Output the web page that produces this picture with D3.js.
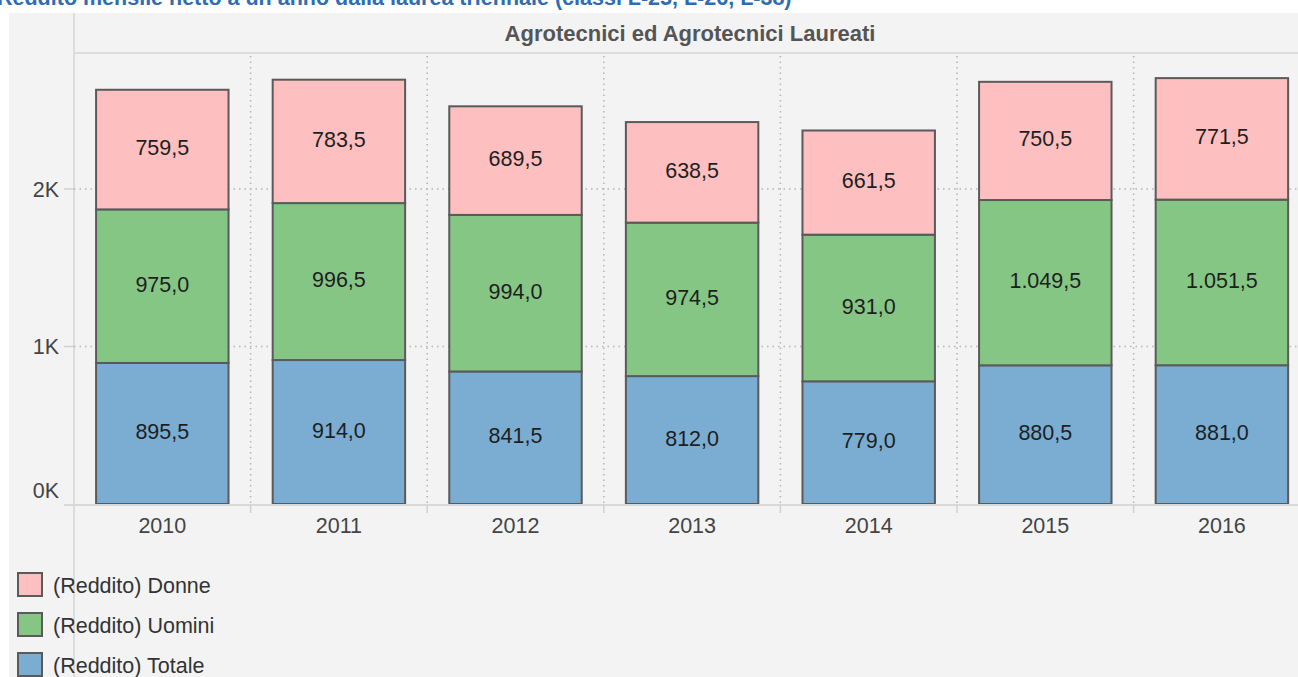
<!DOCTYPE html>
<html>
<head>
<meta charset="utf-8">
<script src="https://cdn.jsdelivr.net/npm/d3@7"></script>
<style>
  body { margin: 0; background: #fff; font-family: Arial, "Liberation Sans", sans-serif; }
  svg { display: block; }
</style>
</head>
<body>
<div id="chart"></div>
<script>
const years = ['2010', '2011', '2012', '2013', '2014', '2015', '2016']
const totale = [895.5, 914.0, 841.5, 812.0, 779.0, 880.5, 881.0]
const uomini = [975.0, 996.5, 994.0, 974.5, 931.0, 1049.5, 1051.5]
const donne = [759.5, 783.5, 689.5, 638.5, 661.5, 750.5, 771.5]
const seriesNames = ['(Reddito) Totale', '(Reddito) Uomini', '(Reddito) Donne']
const yTicks = [0, 1000, 2000]

const colors = {
  '(Reddito) Totale': '#7aadd1',
  '(Reddito) Uomini': '#85c685',
  '(Reddito) Donne': '#fdbfbf'
}

const W = 1298
const H = 677
const margin = { top: 54, left: 74, bottom: 174 }
const colW = 176.6
const plotBottom = H - margin.bottom + 1
const fontSize = 21.5

const rows = years.map((y, i) => ({
  year: y,
  '(Reddito) Totale': totale[i],
  '(Reddito) Uomini': uomini[i],
  '(Reddito) Donne': donne[i]
}))

const stack = d3.stack().keys(seriesNames)
const layers = stack(rows)

const x = d3.scaleBand()
  .domain(years)
  .range([margin.left, margin.left + colW * years.length])
  .paddingInner(0.25)
  .paddingOuter(0.125)

const y = d3.scaleLinear()
  .domain([0, 1000])
  .range([plotBottom, plotBottom - 157.5])

const fmt = v => d3.format(',.1f')(v).replace(/,/g, '#').replace('.', ',').replace(/#/g, '.')

const svg = d3.select('#chart').append('svg')
  .attr('width', W)
  .attr('height', H)

// page title, cut off by the top edge
svg.append('text')
  .attr('x', -3)
  .attr('y', 5)
  .attr('fill', '#2e6db4')
  .attr('font-size', 21.5)
  .attr('font-weight', 'bold')
  .text('Reddito mensile netto a un anno dalla laurea triennale (classi L-25, L-26, L-38)')

svg.append('rect')
  .attr('x', 9).attr('y', 13)
  .attr('width', W - 9).attr('height', H - 13)
  .attr('fill', '#f3f3f3')

// header
svg.append('line')
  .attr('x1', margin.left).attr('x2', W)
  .attr('y1', 53).attr('y2', 53)
  .attr('stroke', '#dcdcdc').attr('stroke-width', 2)
svg.append('line')
  .attr('x1', margin.left).attr('x2', margin.left)
  .attr('y1', 13).attr('y2', H)
  .attr('stroke', '#dcdcdc').attr('stroke-width', 2)

svg.append('text')
  .attr('x', 690)
  .attr('y', 33)
  .attr('dy', '0.35em')
  .attr('text-anchor', 'middle')
  .attr('fill', '#555')
  .attr('font-size', 22)
  .attr('font-weight', 'bold')
  .text('Agrotecnici ed Agrotecnici Laureati')

// grid
const dividers = d3.range(1, years.length).map(i => margin.left + colW * i)
svg.append('g').selectAll('line.vgrid')
  .data(dividers)
  .join('line')
  .attr('class', 'vgrid')
  .attr('x1', d => d).attr('x2', d => d)
  .attr('y1', 56).attr('y2', plotBottom)
  .attr('stroke', '#b5b5b5')
  .attr('stroke-width', 1.5)
  .attr('stroke-dasharray', '1.5,4')

svg.append('g').selectAll('line.hgrid')
  .data(yTicks.filter(d => d > 0))
  .join('line')
  .attr('class', 'hgrid')
  .attr('x1', margin.left).attr('x2', W)
  .attr('y1', d => y(d)).attr('y2', d => y(d))
  .attr('stroke', '#b5b5b5')
  .attr('stroke-width', 1.5)
  .attr('stroke-dasharray', '1.5,4')

// bars
const g = svg.append('g')
layers.forEach(layer => {
  const key = layer.key
  g.selectAll(null)
    .data(layer)
    .join('rect')
    .attr('x', d => x(d.data.year))
    .attr('y', d => y(d[1]))
    .attr('width', x.bandwidth())
    .attr('height', d => y(d[0]) - y(d[1]))
    .attr('fill', colors[key])
    .attr('stroke', '#5a5a5a')
    .attr('stroke-width', 2)

  g.selectAll(null)
    .data(layer)
    .join('text')
    .attr('x', d => x(d.data.year) + x.bandwidth() / 2)
    .attr('y', d => (y(d[0]) + y(d[1])) / 2 - 2)
    .attr('dy', '0.35em')
    .attr('text-anchor', 'middle')
    .attr('fill', '#1e1e1e')
    .attr('font-size', fontSize)
    .text(d => fmt(d.data[key]))
})

// x axis
svg.append('line')
  .attr('x1', margin.left - 10).attr('x2', W)
  .attr('y1', plotBottom + 1).attr('y2', plotBottom + 1)
  .attr('stroke', '#d8d8d8').attr('stroke-width', 2)

svg.append('g').selectAll('line')
  .data(dividers)
  .join('line')
  .attr('x1', d => d).attr('x2', d => d)
  .attr('y1', plotBottom + 1).attr('y2', plotBottom + 9)
  .attr('stroke', '#d0d0d0').attr('stroke-width', 1.5)

svg.append('g').selectAll('text')
  .data(years)
  .join('text')
  .attr('x', d => x(d) + x.bandwidth() / 2)
  .attr('y', plotBottom + 21)
  .attr('dy', '0.35em')
  .attr('text-anchor', 'middle')
  .attr('fill', '#444')
  .attr('font-size', fontSize)
  .text(d => d)

// y axis
const yAxis = svg.append('g')
yAxis.selectAll('line')
  .data(yTicks.filter(d => d > 0))
  .join('line')
  .attr('x1', margin.left - 10).attr('x2', margin.left)
  .attr('y1', d => y(d)).attr('y2', d => y(d))
  .attr('stroke', '#d0d0d0').attr('stroke-width', 1.5)

yAxis.selectAll('text')
  .data(yTicks)
  .join('text')
  .attr('x', 59)
  .attr('y', d => d === 0 ? y(d) - 14 : y(d))
  .attr('dy', '0.35em')
  .attr('text-anchor', 'end')
  .attr('fill', '#444')
  .attr('font-size', fontSize)
  .text(d => (d / 1000) + 'K')

// legend
const legendItems = seriesNames.slice().reverse()
const legend = svg.append('g')
  .selectAll('g')
  .data(legendItems)
  .join('g')
  .attr('transform', (d, i) => `translate(18, ${573 + i * 40})`)

legend.append('rect')
  .attr('width', 24).attr('height', 23)
  .attr('fill', d => colors[d])
  .attr('stroke', '#5a5a5a')
  .attr('stroke-width', 2)

legend.append('text')
  .attr('x', 35)
  .attr('y', 12)
  .attr('dy', '0.35em')
  .attr('fill', '#333')
  .attr('font-size', fontSize)
  .text(d => d)
</script>
</body>
</html>
